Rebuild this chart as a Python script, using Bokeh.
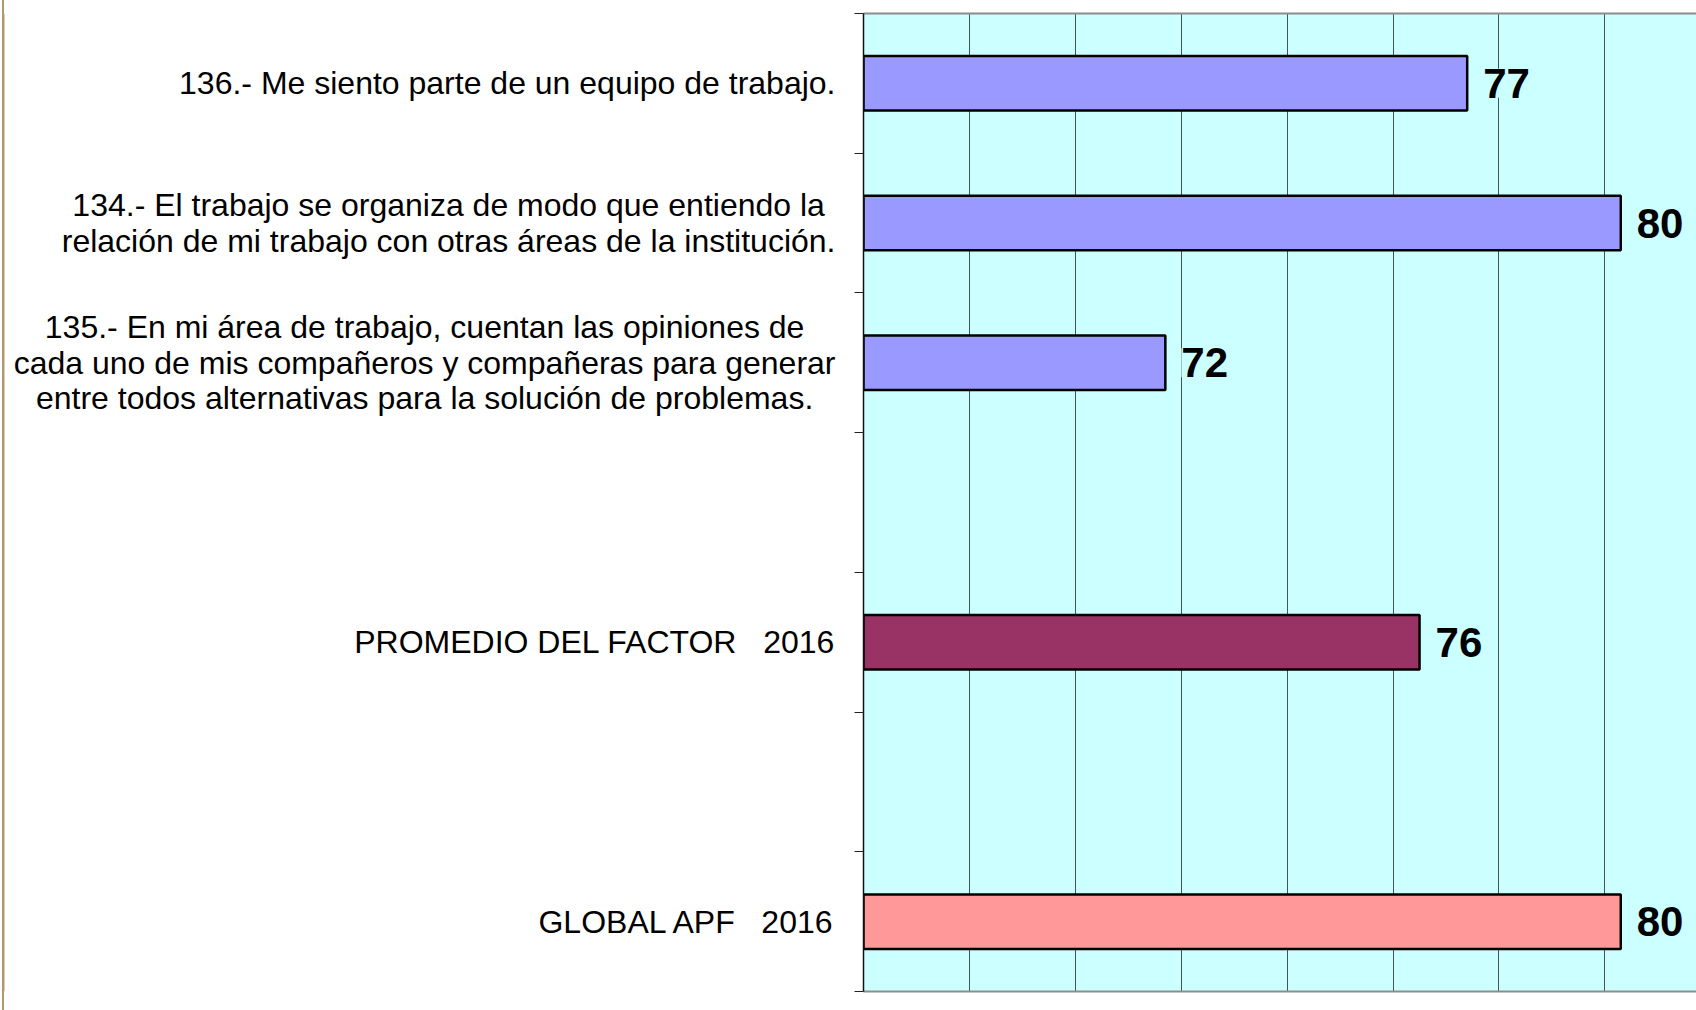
from bokeh.plotting import figure
from bokeh.models import (ColumnDataSource, Range1d, FixedTicker, SingleIntervalTicker,
                          LinearAxis, LabelSet, Label, Span)
from bokeh.layouts import row
from bokeh.core.properties import value
from bokeh.embed import file_html
from bokeh.resources import INLINE

# ---- data (top to bottom; blank rows are empty slots) ----
categories = [
    "136.- Me siento parte de un equipo de trabajo.",
    "134.- El trabajo se organiza de modo que entiendo la\nrelación de mi trabajo con otras áreas de la institución.",
    "135.- En mi área de trabajo, cuentan las opiniones de\ncada uno de mis compañeros y compañeras para generar\nentre todos alternativas para la solución de problemas.",
    "",
    "PROMEDIO DEL FACTOR   2016",
    "",
    "GLOBAL APF   2016",
]
values = [77.4, 80.3, 71.7, None, 76.5, None, 80.3]
value_labels = ["77", "80", "72", "", "76", "", "80"]
bar_colors = ["#9999FF", "#9999FF", "#9999FF", None, "#993366", None, "#FF9999"]

X_START = 66
X_END = 81.73
FONT = "Liberation Sans"
BG = "#CCFFFF"
EDGE = "#b09a70"

W, H = 1696, 1010
LEFT_W = 850          # width of the label panel
TOP_B, BOT_B = 13, 19

n = len(categories)
pos = [n - i - 0.5 for i in range(n)]
keep = [i for i in range(n) if values[i] is not None]

src = ColumnDataSource(dict(
    y=[pos[i] for i in keep],
    v=[values[i] for i in keep],
    lab=[value_labels[i] for i in keep],
    c=[bar_colors[i] for i in keep],
))

# ---------- label panel ----------
lp = figure(width=LEFT_W, height=H, output_backend="svg", toolbar_location=None,
            x_range=Range1d(0, LEFT_W), y_range=Range1d(0, n),
            min_border_left=0, min_border_right=0, min_border_top=TOP_B,
            min_border_bottom=BOT_B,
            styles={"background": f"linear-gradient(to right, white 2px, {EDGE} 2px, "
                                  f"{EDGE} 4px, white 4px)"})
lp.axis.visible = False
lp.grid.visible = False
lp.outline_line_color = None
lp.background_fill_color = None
lp.border_fill_color = None
lp.add_layout(Span(location=3, dimension="height", line_color=EDGE, line_width=2))
for i in range(n):
    if not categories[i]:
        continue
    txt = categories[i].replace("   ", "\u00a0\u00a0\u00a0")
    lp.add_layout(Label(x=LEFT_W, y=pos[i], x_offset=-15, text=txt,
                        anchor="center_right", text_align="center", text_baseline="middle",
                        text_font=FONT, text_font_size="32px", text_line_height=0.985,
                        text_color="black"))

# ---------- chart ----------
p = figure(width=W - LEFT_W, height=H, output_backend="svg", toolbar_location=None,
           x_range=Range1d(X_START, X_END), y_range=Range1d(0, n),
           min_border_left=863 - LEFT_W, min_border_right=0,
           min_border_top=TOP_B, min_border_bottom=BOT_B)
p.background_fill_color = BG
p.border_fill_color = "white"
p.outline_line_color = None

p.hbar(y="y", left=X_START, right="v", height=0.39, fill_color="c",
       line_color="black", line_width=2.5, source=src)

p.ygrid.visible = False
p.xgrid.ticker = SingleIntervalTicker(interval=2)
p.xgrid.grid_line_color = "#455555"
p.xgrid.grid_line_width = 1

p.xaxis.ticker = FixedTicker(ticks=[])
p.xaxis.major_tick_out = 0
p.xaxis.major_tick_in = 0
p.xaxis.minor_tick_out = 0
p.xaxis.minor_tick_in = 0
p.xaxis.axis_line_color = "#8c8c8c"
p.xaxis.axis_line_width = 2
p.xaxis.major_label_text_font_size = "0px"

top = LinearAxis(ticker=FixedTicker(ticks=[]), major_tick_out=0, major_tick_in=0,
                 minor_tick_out=0, minor_tick_in=0, axis_line_color="#8c8c8c",
                 axis_line_width=2, major_label_text_font_size="0px")
p.add_layout(top, "above")

p.yaxis.ticker = FixedTicker(ticks=[], minor_ticks=list(range(0, n + 1)))
p.yaxis.major_tick_out = 0
p.yaxis.major_tick_in = 0
p.yaxis.minor_tick_out = 9
p.yaxis.minor_tick_in = 0
p.yaxis.minor_tick_line_color = "#222222"
p.yaxis.axis_line_color = "#111111"
p.yaxis.axis_line_width = 1.5
p.yaxis.major_label_text_font_size = "0px"

p.add_layout(LabelSet(x="v", y="y", text="lab", source=src, x_offset=16,
                      text_baseline="middle", text_align="left",
                      text_font=value(FONT), text_font_size="42px",
                      text_font_style="bold", text_color="black",
                      background_fill_color=BG))

layout = row(lp, p, spacing=0)
open("out.html", "w").write(file_html(layout, INLINE))
